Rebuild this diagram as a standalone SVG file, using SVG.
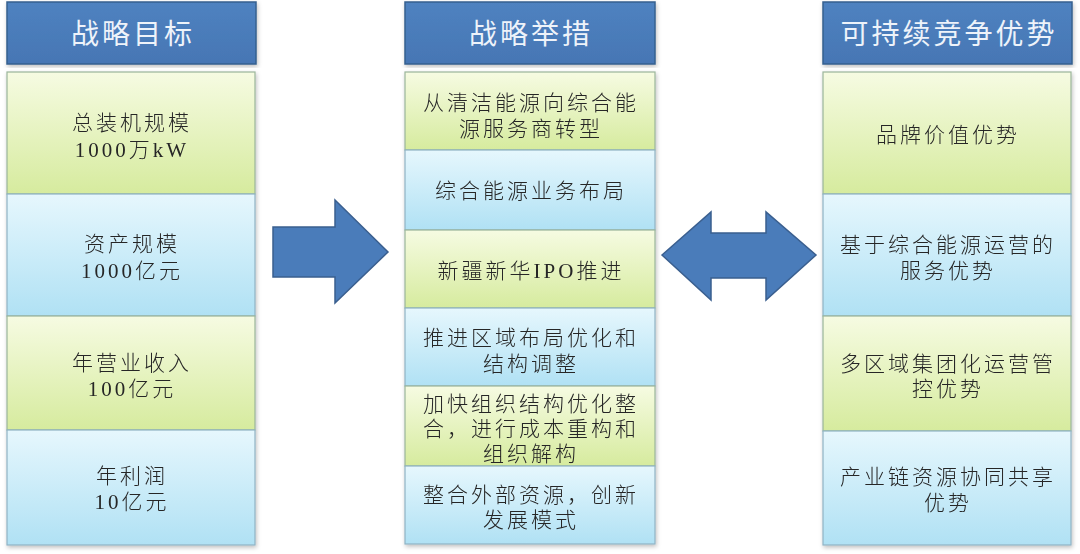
<svg xmlns="http://www.w3.org/2000/svg" width="1080" height="554" viewBox="0 0 1080 554">
<defs>
<linearGradient id="gG" x1="0" y1="0" x2="0" y2="1"><stop offset="0" stop-color="#f6fbe2"/><stop offset="1" stop-color="#d6eb9e"/></linearGradient>
<linearGradient id="gB" x1="0" y1="0" x2="0" y2="1"><stop offset="0" stop-color="#e6f7fd"/><stop offset="1" stop-color="#b0e1f4"/></linearGradient>
<linearGradient id="gH" x1="0" y1="0" x2="0" y2="1"><stop offset="0" stop-color="#4f82c0"/><stop offset="1" stop-color="#4676b4"/></linearGradient>
<filter id="sh" x="-5%" y="-5%" width="110%" height="110%"><feDropShadow dx="1" dy="2" stdDeviation="2" flood-color="#000" flood-opacity="0.25"/></filter>
</defs>
<style>
.hd{fill:url(#gH);stroke:#35608f;stroke-width:1.5}
.g{fill:url(#gG);stroke:#9ab59a;stroke-width:1.2}
.b{fill:url(#gB);stroke:#8fb3c4;stroke-width:1.2}
.ht{font-family:"Noto Sans CJK SC",sans-serif;font-size:28px;font-weight:400;fill:#eef3fa;text-anchor:middle;letter-spacing:3px}
.t{font-family:"Liberation Serif","Noto Sans CJK SC",serif;font-size:21px;font-weight:300;fill:#262626;text-anchor:middle;letter-spacing:3px}
.ar{fill:#4a7cba;stroke:#3a5f8f;stroke-width:1.5}
</style>
<rect width="1080" height="554" fill="#fff"/>

<g id="col-goal">
<g id="goal-header"><rect class="hd" x="7" y="2" width="249" height="62" filter="url(#sh)"/><text class="ht" x="133" y="44">战略目标</text></g>
<g filter="url(#sh)">
<g id="goal-1"><rect class="g" x="7" y="72" width="248" height="122"/><text class="t" x="132" y="130">总装机规模</text><text class="t" x="132" y="157">1000万kW</text></g>
<g id="goal-2"><rect class="b" x="7" y="194" width="248" height="122"/><text class="t" x="132" y="251">资产规模</text><text class="t" x="132" y="278">1000亿元</text></g>
<g id="goal-3"><rect class="g" x="7" y="316" width="248" height="114"/><text class="t" x="132" y="370">年营业收入</text><text class="t" x="132" y="396">100亿元</text></g>
<g id="goal-4"><rect class="b" x="7" y="430" width="248" height="115"/><text class="t" x="132" y="483">年利润</text><text class="t" x="132" y="509">10亿元</text></g>
</g>
</g>

<g id="col-measures">
<g id="measure-header"><rect class="hd" x="405" y="2" width="250" height="62" filter="url(#sh)"/><text class="ht" x="531" y="44">战略举措</text></g>
<g filter="url(#sh)">
<g id="measure-1"><rect class="g" x="405" y="72" width="250" height="78"/><text class="t" x="531" y="110">从清洁能源向综合能</text><text class="t" x="531" y="136">源服务商转型</text></g>
<g id="measure-2"><rect class="b" x="405" y="150" width="250" height="80"/><text class="t" x="531" y="198">综合能源业务布局</text></g>
<g id="measure-3"><rect class="g" x="405" y="230" width="250" height="78"/><text class="t" x="531" y="278">新疆新华IPO推进</text></g>
<g id="measure-4"><rect class="b" x="405" y="308" width="250" height="78"/><text class="t" x="531" y="345">推进区域布局优化和</text><text class="t" x="531" y="371">结构调整</text></g>
<g id="measure-5"><rect class="g" x="405" y="386" width="250" height="80"/><text class="t" x="531" y="411">加快组织结构优化整</text><text class="t" x="531" y="436">合，进行成本重构和</text><text class="t" x="531" y="461">组织解构</text></g>
<g id="measure-6"><rect class="b" x="405" y="466" width="250" height="78"/><text class="t" x="531" y="502">整合外部资源，创新</text><text class="t" x="531" y="527">发展模式</text></g>
</g>
</g>

<g id="col-advantage">
<g id="adv-header"><rect class="hd" x="823" y="2" width="249" height="62" filter="url(#sh)"/><text class="ht" x="949" y="44">可持续竞争优势</text></g>
<g filter="url(#sh)">
<g id="adv-1"><rect class="g" x="823" y="72" width="248" height="122"/><text class="t" x="948" y="142">品牌价值优势</text></g>
<g id="adv-2"><rect class="b" x="823" y="194" width="248" height="122"/><text class="t" x="948" y="252">基于综合能源运营的</text><text class="t" x="948" y="278">服务优势</text></g>
<g id="adv-3"><rect class="g" x="823" y="316" width="248" height="115"/><text class="t" x="948" y="371">多区域集团化运营管</text><text class="t" x="948" y="396">控优势</text></g>
<g id="adv-4"><rect class="b" x="823" y="431" width="248" height="114"/><text class="t" x="948" y="484">产业链资源协同共享</text><text class="t" x="948" y="510">优势</text></g>
</g>
</g>

<g id="connectors">
<path class="ar" d="M273,227 H335 V200 L388,252 L335,303 V277 H273 Z"/>
<path class="ar" d="M662,255 L711,212 V233 H766 V212 L816,255 L766,300 V278 H711 V300 Z"/>
</g>
</svg>
